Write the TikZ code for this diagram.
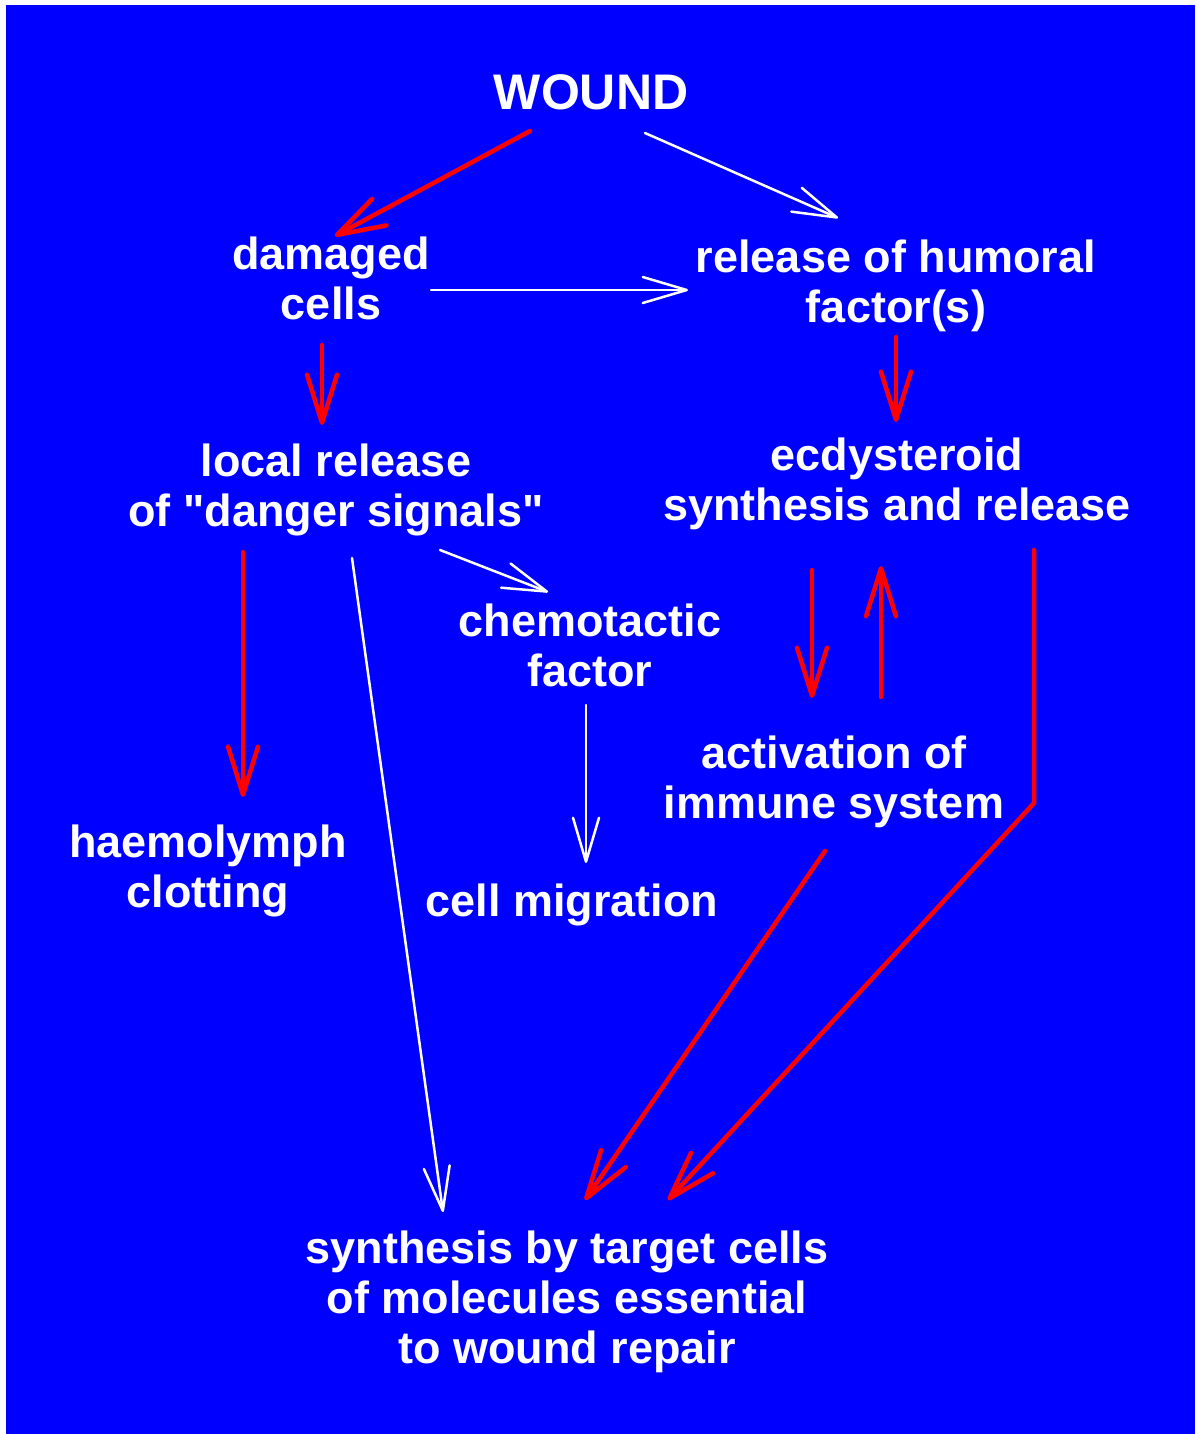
\documentclass[tikz,border=0pt]{standalone}
\usepackage{fontspec}
\setmainfont{Liberation Sans}
\usepackage{tikz}
\usetikzlibrary{positioning, arrows.meta, calc}
\definecolor{bgblue}{RGB}{0,0,255}
\definecolor{arrred}{RGB}{255,0,0}
\tikzset{
  lbl/.style      ={text=white, align=center, inner sep=0pt,
                    font=\bfseries\fontsize{45}{50}\selectfont},
  title/.style    ={text=white, inner sep=0pt,
                    font=\bfseries\fontsize{50}{55}\selectfont},
  redflow/.style  ={draw=arrred, line width=4.5pt, line cap=round, line join=round,
                    -{Straight Barb[round, length=48pt, width=30pt]}},
  whiteflow/.style={draw=white, line width=2.5pt, line cap=round,
                    -{Straight Barb[round, length=44pt, width=26pt]}},
}

\begin{document}
\begin{tikzpicture}[x=1pt, y=-1pt]
  \useasboundingbox (0,0) rectangle (1195,1434);
  \fill[white] (0,0) rectangle (1195,1434);
  \fill[bgblue] (6,5) rectangle (1195,1434);

  \node[title] (W)  at (591,92)   {WOUND};
  \node[lbl]   (DC) at (331,278)  {damaged\\cells};
  \node[lbl]   (HF) at (896,286)  {release of humoral\\factor(s)};
  \node[lbl]   (LR) at (336,490)  {local release\\of \textquotedbl danger signals\textquotedbl};
  \node[lbl]   (EC) at (897,484)  {ecdysteroid\\synthesis and release};
  \node[lbl]   (CF) at (590,645)  {chemotactic\\factor};
  \node[lbl]   (HC) at (208,871)  {haemolymph\\clotting};
  \node[lbl]   (CM) at (572,905)  {cell migration};
  \node[lbl]   (IS) at (834,782)  {activation of\\immune system};
  \node[lbl]   (SY) at (567,1302) {synthesis by target cells\\of molecules essential\\to wound repair};

  \draw[redflow]   ($(W)+(-61,39)$)  -- ($(DC)+(4,-42)$);
  \draw[whiteflow] ($(W)+(54,41)$)   -- ($(HF)+(-58,-68)$);
  \draw[whiteflow] ($(DC)+(100,12)$) -- ($(HF)+(-208,4)$);
  \draw[redflow]   ($(DC)+(-9,67)$)  -- ($(DC)+(-9,147)$);
  \draw[redflow]   ($(HF)+(0,51)$)   -- ($(HF)+(0,136)$);
  \draw[redflow]   ($(LR)+(-93,62)$) -- ($(HC)+(35,-74)$);
  \draw[whiteflow] ($(LR)+(16,68)$)  -- ($(SY)+(-124,-90)$);
  \draw[whiteflow] ($(LR)+(104,60)$) -- ($(CF)+(-42,-53)$);
  \draw[whiteflow] ($(CF)+(-4,60)$)  -- ($(CM)+(14,-42)$);
  \draw[redflow]   ($(EC)+(-85,86)$) -- ($(IS)+(-22,-84)$);
  \draw[redflow]   ($(IS)+(47,-85)$) -- ($(EC)+(-16,82)$);
  \draw[redflow]   ($(EC)+(137,66)$) -- ++(0,253) -- ($(SY)+(101,-102)$);
  \draw[redflow]   ($(IS)+(-9,69)$)  -- ($(SY)+(18,-102)$);
\end{tikzpicture}
\end{document}
